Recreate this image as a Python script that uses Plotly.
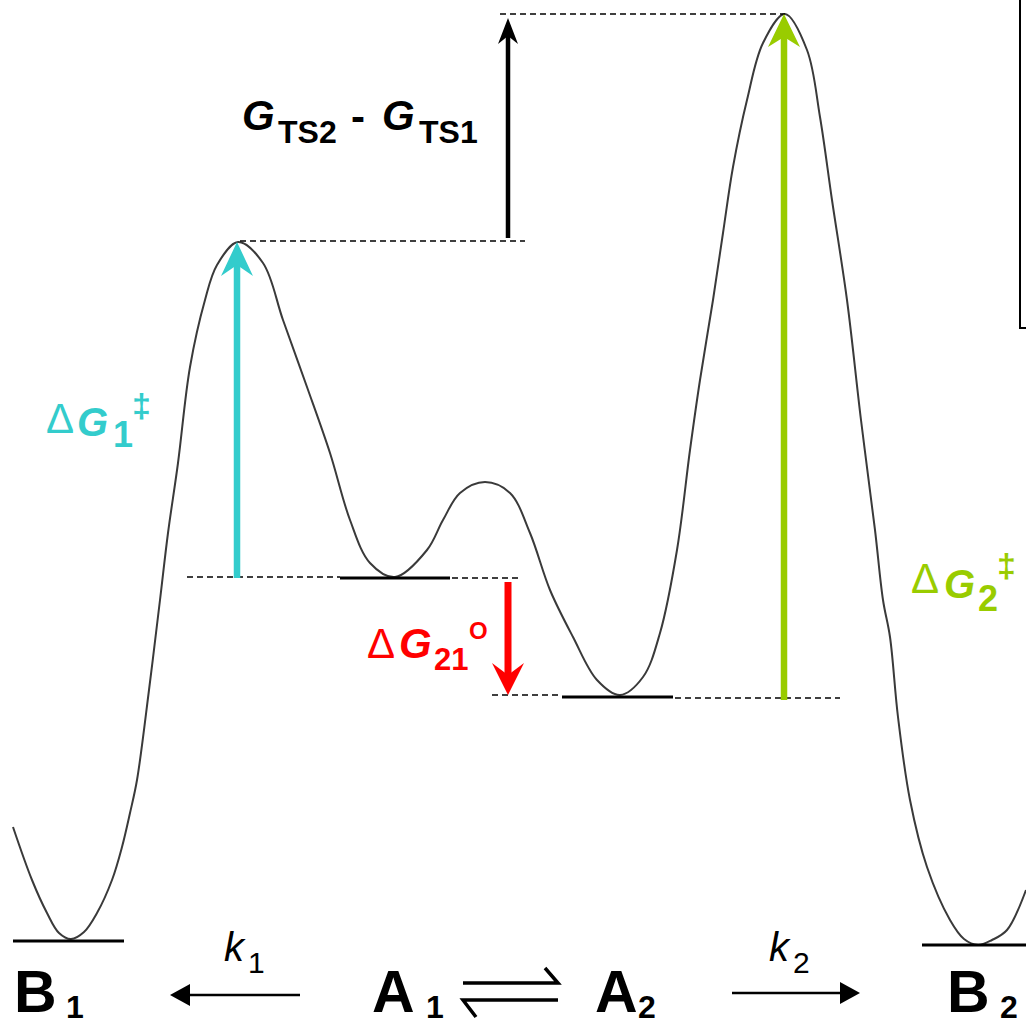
import plotly.graph_objects as go

H = 1026  # canvas size; G axis runs 0..H (bottom to top)

# ---- free-energy profile (reaction coordinate, G) ----
curve_x = [13, 32, 47, 59, 71, 84, 97, 112, 122, 130, 137, 149, 160, 168, 178, 190, 205, 217, 238,
           263, 283, 307, 330, 350, 370, 395, 427, 443, 460, 485, 510, 530, 550, 573,
           597, 620, 643, 660, 677, 690, 700, 713, 723, 733, 747, 763, 785, 807, 820,
           832, 847, 861, 875, 883, 890, 898, 910, 927, 950, 964, 978, 992, 1007, 1026]
curve_G = [199, 146, 113, 93, 87, 94, 113, 146, 179, 213, 246, 336, 426, 493, 563, 659, 726, 761, 784,
           763, 706, 639, 573, 506, 463, 449, 476, 506, 533, 544, 533, 493, 436, 389,
           346, 331, 349, 393, 476, 576, 646, 726, 793, 859, 926, 983, 1012, 976, 909,
           826, 726, 606, 496, 426, 389, 309, 226, 159, 106, 87, 81, 86, 96, 136]

# ---- state energies ----
state_G = {"B1": 85, "TS1": 785, "A1": 448, "A2": 329, "TS2": 1012, "B2": 81}
level_names = ["B1", "A1", "A2", "B2"]
level_x0 = [13, 340, 562, 922]
level_x1 = [124, 450, 673, 1026]

fig = go.Figure()
fig.add_trace(go.Scatter(x=curve_x, y=curve_G, mode="lines",
                         line=dict(color="#3a3a3a", width=2, shape="spline", smoothing=1.0),
                         hoverinfo="skip", showlegend=False))

shapes = []

def hline(x0, x1, y, width=3, dash="solid", color="black"):
    shapes.append(dict(type="line", x0=x0, x1=x1, y0=y, y1=y, xref="x", yref="y",
                       line=dict(color=color, width=width, dash=dash)))

for n, a, b in zip(level_names, level_x0, level_x1):
    hline(a, b, state_G[n], width=3)

DASH = "6px,4px"
hline(187, 340, state_G["A1"] + 1, width=1.6, dash=DASH)
hline(452, 522, state_G["A1"], width=1.6, dash=DASH)
hline(492, 562, state_G["A2"] + 2, width=1.6, dash=DASH)
hline(675, 840, state_G["A2"] - 1, width=1.6, dash=DASH)
hline(240, 525, state_G["TS1"], width=1.6, dash=DASH)
hline(500, 785, state_G["TS2"], width=1.6, dash=DASH)

def varrow(x, g_from, g_to, color, shaft_w, head_len, head_half, notch):
    d = 1 if g_to > g_from else -1
    base = g_to - d * head_len
    nt = g_to - d * (head_len - notch)
    shapes.append(dict(type="line", x0=x, x1=x, y0=g_from, y1=nt, xref="x", yref="y",
                       line=dict(color=color, width=shaft_w)))
    path = (f"M {x},{g_to} L {x-head_half},{base} L {x},{nt} L {x+head_half},{base} Z")
    shapes.append(dict(type="path", path=path, xref="x", yref="y",
                       fillcolor=color, line=dict(color=color, width=0)))

CYAN, GREEN, RED = "#33CCCC", "#99CC00", "#FF0000"
varrow(237, state_G["A1"], state_G["TS1"] - 1, CYAN, 6.5, 34, 16, 11)
varrow(784, state_G["A2"] - 3, state_G["TS2"], GREEN, 6.5, 33, 16, 10)
varrow(508, state_G["A1"] - 4, state_G["A2"] + 2, RED, 7, 32, 16, 12)
varrow(508, state_G["TS1"] + 3, state_G["TS2"] - 4, "black", 4.5, 26, 10, 8)

def harrow(x_from, x_to, y, width=2.5, head_len=20, head_half=11):
    d = 1 if x_to > x_from else -1
    base = x_to - d * head_len
    shapes.append(dict(type="line", x0=x_from, x1=base, y0=y, y1=y, xref="x", yref="y",
                       line=dict(color="black", width=width)))
    shapes.append(dict(type="path", xref="x", yref="y",
                       path=f"M {x_to},{y} L {base},{y+head_half} L {base},{y-head_half} Z",
                       fillcolor="black", line=dict(color="black", width=0)))

harrow(300, 170, 31)
harrow(732, 860, 33)
# equilibrium harpoons
shapes.append(dict(type="path", xref="x", yref="y",
                   path="M 463,43 L 558,43 L 545,58", line=dict(color="black", width=3.5)))
shapes.append(dict(type="path", xref="x", yref="y",
                   path="M 558,26 L 463,26 L 476,9", line=dict(color="black", width=3.5)))

# partial legend frame top-right
shapes.append(dict(type="path", xref="x", yref="y",
                   path=f"M 1020,{H} L 1020,698 L 1026,698", line=dict(color="black", width=2)))

ann = []
F = "Liberation Sans, Arial, sans-serif"

def piece(text, x, yc, size, color="black", bold=True, italic=False, family=F):
    t = text
    if italic:
        t = f"<i>{t}</i>"
    if bold:
        t = f"<b>{t}</b>"
    ann.append(dict(x=x, y=H - yc, xref="x", yref="y", text=t, showarrow=False,
                    xanchor="left", yanchor="middle", borderpad=0,
                    font=dict(family=family, size=size, color=color)))

# G_TS2 - G_TS1
piece("G", 241, 115, 42, italic=True)
piece("TS2", 277, 132, 32)
piece("-", 350, 116, 42)
piece("G", 381, 115, 42, italic=True)
piece("TS1", 418, 132, 32)

# ΔG1‡ (cyan)
piece("Δ", 45, 418, 42, CYAN, bold=False)
piece("G", 76, 422, 40, CYAN, italic=True)
piece("1", 112, 434, 36, CYAN)
piece("‡", 131, 405, 34, CYAN)

# ΔG21° (red)
piece("Δ", 366, 643, 42, RED, bold=False)
piece("G", 398, 643, 42, RED, italic=True)
piece("21", 433, 659, 31, RED)
piece("O", 468, 630, 24, RED)

# ΔG2‡ (green)
piece("Δ", 910, 578, 42, GREEN, bold=False)
piece("G", 943, 584, 40, GREEN, italic=True)
piece("2", 977, 598, 36, GREEN)
piece("‡", 996, 565, 34, GREEN)

# bottom scheme
piece("B", 13, 992, 59)
piece("1", 65, 1007, 32)
piece("A", 371, 992, 59)
piece("1", 425, 1007, 32)
piece("A", 594, 992, 59)
piece("2", 637, 1007, 32)
piece("B", 946, 992, 59)
piece("2", 999, 1007, 32)
piece("k", 223, 947, 40, bold=False, italic=True)
piece("1", 247, 962, 30, bold=False)
piece("k", 768, 947, 40, bold=False, italic=True)
piece("2", 792, 962, 30, bold=False)

fig.update_layout(
    width=H, height=H, margin=dict(l=0, r=0, t=0, b=0),
    plot_bgcolor="white", paper_bgcolor="white",
    xaxis=dict(range=[0, H], visible=False, fixedrange=True),
    yaxis=dict(range=[0, H], visible=False, fixedrange=True),
    shapes=shapes, annotations=ann, showlegend=False,
)
fig.write_html("out.html", config={"displayModeBar": False},
               post_script="document.body.style.margin='0px';document.body.style.overflow='hidden';")
